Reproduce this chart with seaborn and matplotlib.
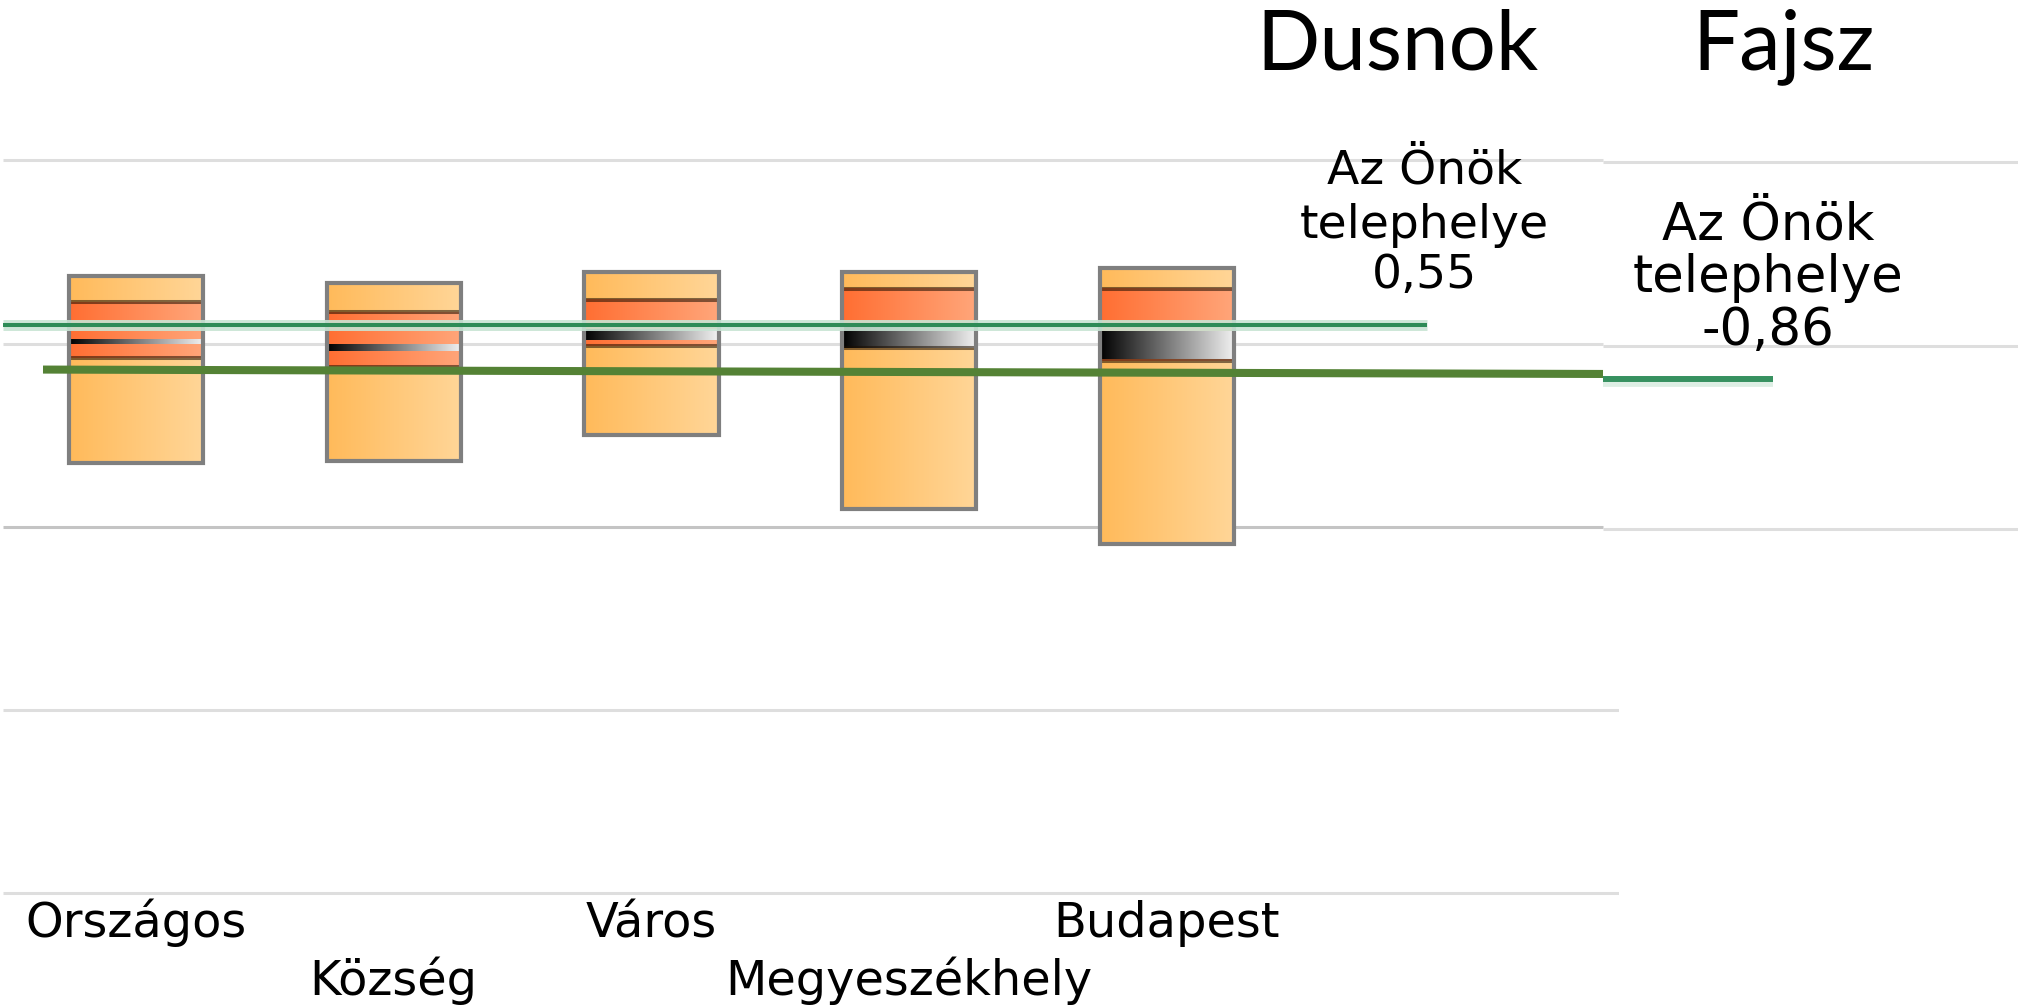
import numpy as np
import matplotlib
matplotlib.use("Agg")
import matplotlib.pyplot as plt
import matplotlib.colors as mcolors
import seaborn as sns

# ---------------- data ----------------
categories = ["Országos", "Község", "Város", "Megyeszékhely", "Budapest"]
box_low = [0.174, 0.180, 0.250, 0.049, -0.047]     # lower end of light box
q25 = [0.461, 0.436, 0.493, 0.488, 0.452]          # lower end of dark band
ci_low = [0.499, 0.480, 0.510, 0.488, 0.458]       # gradient (confidence) band
ci_high = [0.510, 0.499, 0.540, 0.551, 0.532]
q75 = [0.613, 0.586, 0.619, 0.649, 0.649]          # upper end of dark band
box_high = [0.684, 0.665, 0.695, 0.695, 0.706]     # upper end of light box

dusnok_value = 0.55
fajsz_value = -0.86
fajsz_level_on_dusnok = [0.429, 0.417]   # comparison line drawn across Dusnok chart (start, end)

grid_left = [1.0, 0.5, 0.0, -0.5, -1.0]
grid_right = [1.5, -0.5, -2.5]
titles = ["Dusnok", "Fajsz"]
site_label = ["Az Önök", "telephelye"]


def fmt(v):
    return f"{v:.2f}".replace(".", ",")


# ---------------- style ----------------
sns.set_theme(style="white")
plt.rcParams["font.family"] = ["DejaVu Sans"]

W, H = 2018, 1006
fig = plt.figure(figsize=(W / 100, H / 100), dpi=100)
fig.patch.set_facecolor("white")

# left panel scale: pixel_y = Y0 - S * value ; pixel_x = X0 + D * index
Y0, S = 526.8, 366.5
X0, D = 136.0, 257.75
L_RIGHT_PX = 1619
axL = fig.add_axes([0, 0, L_RIGHT_PX / W, 1])
xl = (-X0 / D, (L_RIGHT_PX - X0) / D)
yl = ((Y0 - H) / S, Y0 / S)


def px_x(px):
    return (px - X0) / D


def px_y(py):
    return (Y0 - py) / S


# gridlines
for g in grid_left:
    xmax = px_x(1603) if g >= 0 else xl[1]
    col = "#C4C4C4" if g == 0 else "#DEDEDE"
    axL.hlines(g, px_x(3), xmax, color=col, lw=2.2, zorder=1)

pos = np.arange(len(categories))
bw = 0.52
light0, light1 = "#FFBA5A", "#FFD698"
dark0, dark1 = "#FF6E32", "#FFA67A"


def hgrad(c0, c1, n=256):
    a = np.array(mcolors.to_rgb(c0))
    b = np.array(mcolors.to_rgb(c1))
    t = np.linspace(0, 1, n)[None, :, None]
    return a + (b - a) * t


for i, x in enumerate(pos):
    x0, x1 = x - bw / 2, x + bw / 2
    axL.imshow(hgrad(light0, light1), extent=(x0, x1, box_low[i], box_high[i]),
               aspect="auto", origin="lower", interpolation="bilinear", zorder=2)
    axL.imshow(hgrad(dark0, dark1), extent=(x0, x1, q25[i], q75[i]),
               aspect="auto", origin="lower", interpolation="bilinear", zorder=3)
    axL.imshow(hgrad("#000000", "#F2F2F2"), extent=(x0, x1, ci_low[i], ci_high[i]),
               aspect="auto", origin="lower", interpolation="bilinear", zorder=4)
    axL.hlines([q25[i], q75[i]], x0, x1, color=(0.1, 0.05, 0.0, 0.55), lw=2.9, zorder=5)

axL.bar(pos, np.array(box_high) - np.array(box_low), bottom=box_low, width=bw,
        fill=False, edgecolor="#7F7F7F", linewidth=3.0, zorder=6)

# site value line (Dusnok)
sns.lineplot(x=[px_x(3), 5.01], y=[dusnok_value, dusnok_value], ax=axL,
             color="#C8E4D4", linewidth=7.9, alpha=0.9, solid_capstyle="butt", zorder=7)
sns.lineplot(x=[px_x(3), 5.01], y=[dusnok_value, dusnok_value], ax=axL,
             color="#2E8B57", linewidth=2.9, solid_capstyle="butt", zorder=8)
# comparison line (Fajsz level)
sns.lineplot(x=[px_x(43), px_x(1603)], y=fajsz_level_on_dusnok, ax=axL,
             color="#548235", linewidth=5.8, solid_capstyle="butt", zorder=8)

# category labels, staggered in two rows
row_base = [px_y(937), px_y(995)]
for i, lab in enumerate(categories):
    axL.text(pos[i], row_base[i % 2], lab, ha="center", va="baseline",
             fontsize=34.5, color="black", clip_on=False)

# site annotation (left)
for txt, by in zip(site_label + [fmt(dusnok_value)], [183, 238, 288]):
    axL.text(5.0, px_y(by), txt, ha="center", va="baseline", fontsize=34, color="black")

axL.set_xlim(*xl)
axL.set_ylim(*yl)
axL.axis("off")

# ---------------- right panel (Fajsz) ----------------
RX0, RY0, RS = 1768.0, 299.6, 91.9
axR = fig.add_axes([1603 / W, 0, (W - 1603) / W, 1])
axR.patch.set_alpha(0)
xr = (5 - (RX0 - 1603) / D, 5 + (W - RX0) / D)
yr = ((RY0 - H) / RS, RY0 / RS)


def rpx_y(py):
    return (RY0 - py) / RS


for g in grid_right:
    axR.hlines(g, xr[0], xr[1], color="#DEDEDE", lw=2.2, zorder=1)

sns.lineplot(x=[xr[0], 5.02], y=[fajsz_value - 0.04, fajsz_value - 0.04], ax=axR,
             color="#DDEEE4", linewidth=7.0, solid_capstyle="butt", zorder=7)
sns.lineplot(x=[xr[0], 5.02], y=[fajsz_value, fajsz_value], ax=axR,
             color="#379160", linewidth=4.3, solid_capstyle="butt", zorder=8)

for txt, by in zip(site_label + [fmt(fajsz_value)], [240, 292, 345]):
    axR.text(5.0, rpx_y(by), txt, ha="center", va="baseline", fontsize=37, color="black")

axR.set_xlim(*xr)
axR.set_ylim(*yr)
axR.axis("off")

# ---------------- titles ----------------
fig.text(1397.5 / W, 1 - 69 / H, titles[0], ha="center", va="baseline",
         fontsize=60, family=["Lato", "DejaVu Sans"], color="black")
fig.text(1784 / W, 1 - 69 / H, titles[1], ha="center", va="baseline",
         fontsize=60, family=["Lato", "DejaVu Sans"], color="black")

fig.savefig("out.png", dpi=100, facecolor="white")
